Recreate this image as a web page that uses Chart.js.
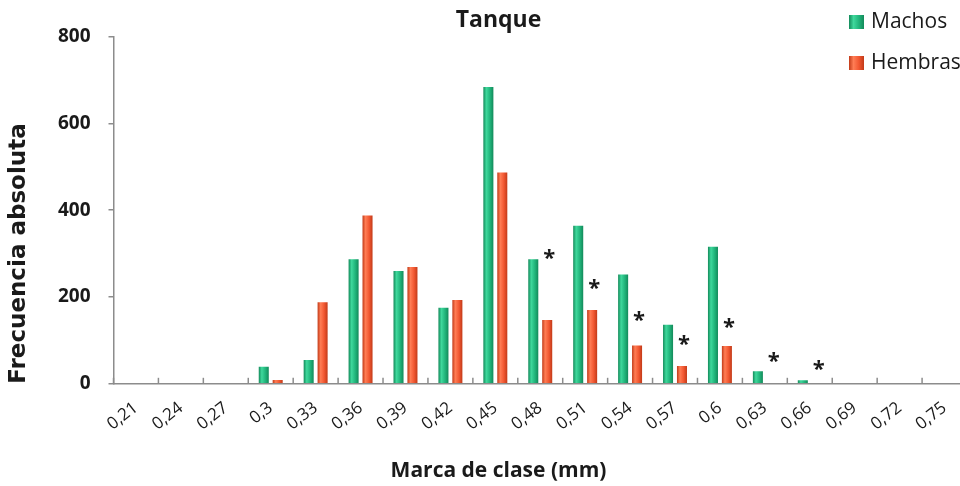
<!DOCTYPE html>
<html>
<head>
<meta charset="utf-8">
<script src="https://cdn.jsdelivr.net/npm/chart.js@4.4.0/dist/chart.umd.min.js"></script>
<style>
  html, body { margin: 0; padding: 0; background: #ffffff; overflow: hidden; }
  #wrap { width: 996px; height: 486px; }
</style>
</head>
<body>
<div id="wrap"><canvas id="c" width="996" height="486"></canvas></div>
<script>
// ---- data ----
const categories = ['0,21','0,24','0,27','0,3','0,33','0,36','0,39','0,42','0,45','0,48','0,51','0,54','0,57','0,6','0,63','0,66','0,69','0,72','0,75'];
const machos  = [0, 0, 0, 39, 55, 287, 260, 175, 684, 287, 364, 252, 136, 316, 29, 8, 0, 0, 0];
const hembras = [0, 0, 0, 9, 188, 388, 269, 193, 487, 147, 170, 88, 41, 87, 0, 0, 0, 0, 0];
// height (in frequency units) at which a significance asterisk is shown; null = none
const asteriskAt = [null, null, null, null, null, null, null, null, null, 302, 233, 159, 103, 142, 63, 45, null, null, null];
const yTicks = [0, 200, 400, 600, 800];
const seriesNames = ['Machos', 'Hembras'];

const palette = {
  Machos:  { dark: '#138a5a', light: '#3fd89c', mid: '#22b67c' },
  Hembras: { dark: '#c23a18', light: '#ff7d55', mid: '#f25832' }
};

function barGradient(ctx, x0, x1, p) {
  const g = ctx.createLinearGradient(x0, 0, x1, 0);
  g.addColorStop(0, p.dark);
  g.addColorStop(0.3, p.light);
  g.addColorStop(0.65, p.mid);
  g.addColorStop(1, p.dark);
  return g;
}

const shadePlugin = {
  id: 'shade',
  beforeDatasetsDraw(chart) {
    const ctx = chart.ctx;
    chart.data.datasets.forEach((ds, di) => {
      const meta = chart.getDatasetMeta(di);
      const p = palette[ds.label];
      meta.data.forEach(el => {
        const w = el.width, x = el.x;
        el.options = Object.assign({}, el.options, {
          backgroundColor: barGradient(ctx, x - w / 2, x + w / 2, p)
        });
      });
    });
  }
};

const innerTicksPlugin = {
  id: 'innerTicks',
  afterDraw(chart) {
    const xs = chart.scales.x, ctx = chart.ctx;
    const n = categories.length;
    ctx.save();
    ctx.strokeStyle = '#8c8c8c';
    ctx.lineWidth = 1.5;
    for (let i = 0; i <= n; i++) {
      const x = xs.left + i * (xs.width / n);
      ctx.beginPath();
      ctx.moveTo(x, chart.chartArea.bottom);
      ctx.lineTo(x, chart.chartArea.bottom - 6);
      ctx.stroke();
    }
    ctx.restore();
  }
};

const asteriskPlugin = {
  id: 'asterisks',
  afterDatasetsDraw(chart) {
    const ctx = chart.ctx, ys = chart.scales.y;
    const meta = chart.getDatasetMeta(1);
    ctx.save();
    ctx.fillStyle = '#1a1a1a';
    ctx.font = 'bold 22px "Open Sans"';
    ctx.textAlign = 'center';
    ctx.textBaseline = 'alphabetic';
    asteriskAt.forEach((v, i) => {
      if (v === null) return;
      const el = meta.data[i];
      const x = el.x + 2;
      const y = ys.getPixelForValue(v);
      ctx.fillText('*', x, y + 12);
    });
    ctx.restore();
  }
};

const legendPlugin = {
  id: 'customLegend',
  afterDraw(chart) {
    const ctx = chart.ctx;
    const rows = [22, 63];
    ctx.save();
    chart.data.datasets.forEach((ds, di) => {
      const cy = rows[di];
      const p = palette[ds.label];
      const bx = 849, bw = 15, bh = 14;
      ctx.fillStyle = barGradient(ctx, bx, bx + bw, p);
      ctx.fillRect(bx, cy - bh / 2, bw, bh);
      ctx.fillStyle = '#1a1a1a';
      ctx.font = '21px "Open Sans"';
      ctx.textAlign = 'left';
      ctx.textBaseline = 'middle';
      ctx.fillText(ds.label, 871, cy);
    });
    ctx.restore();
  }
};

new Chart(document.getElementById('c'), {
  type: 'bar',
  data: {
    labels: categories,
    datasets: [
      { label: seriesNames[0], data: machos, backgroundColor: palette.Machos.mid, borderWidth: 0 },
      { label: seriesNames[1], data: hembras, backgroundColor: palette.Hembras.mid, borderWidth: 0 }
    ]
  },
  options: {
    responsive: false,
    animation: false,
    devicePixelRatio: 1,
    layout: { padding: { left: 30, right: 29, top: 0, bottom: 0 } },
    datasets: { bar: { categoryPercentage: 0.62, barPercentage: 0.72 } },
    plugins: {
      legend: { display: false },
      tooltip: { enabled: false },
      title: {
        display: true, text: 'Tanque', color: '#1a1a1a',
        font: { family: '"Open Sans"', size: 23, weight: 'bold' },
        padding: { top: 7, bottom: 2 }
      },
      subtitle: {
        display: true, position: 'bottom', text: 'Marca de clase (mm)', color: '#1a1a1a',
        font: { family: '"Open Sans"', size: 21, weight: 'bold' },
        padding: { top: 0, bottom: 2 }
      }
    },
    scales: {
      x: {
        type: 'category',
        offset: true,
        grid: { display: false },
        border: { display: true, color: '#8c8c8c', width: 1.5 },
        ticks: {
          color: '#1a1a1a', font: { family: '"Open Sans"', size: 17 },
          minRotation: 38, maxRotation: 38, autoSkip: false, padding: 6
        },
        afterFit(s) { s.height = 75; }
      },
      y: {
        min: 0, max: 800,
        afterBuildTicks(s) { s.ticks = yTicks.map(v => ({ value: v })); },
        grid: { display: true, drawOnChartArea: false, drawTicks: true, tickLength: 5, color: '#8c8c8c', lineWidth: 1.5 },
        border: { display: true, color: '#8c8c8c', width: 1.5 },
        ticks: { color: '#1a1a1a', font: { family: '"Open Sans"', size: 19, weight: 'bold' }, padding: 18 },
        title: {
          display: true, text: 'Frecuencia absoluta', align: 'start', color: '#1a1a1a',
          font: { family: '"DejaVu Sans"', size: 23, weight: 'bold' },
          padding: { top: -25, bottom: 0 }
        },
        afterFit(s) { s.width = 83.5; }
      }
    }
  },
  plugins: [shadePlugin, asteriskPlugin, innerTicksPlugin, legendPlugin]
});
</script>
</body>
</html>
